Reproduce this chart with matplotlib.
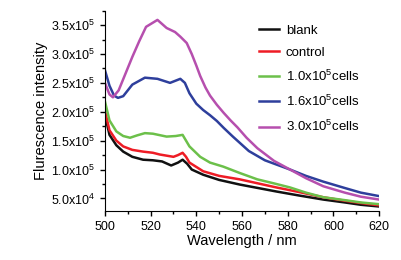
import matplotlib
matplotlib.use('Agg')
import matplotlib.pyplot as plt
from matplotlib.ticker import MultipleLocator, FuncFormatter

plt.rcParams['font.family'] = ['Liberation Sans', 'DejaVu Sans']
plt.rcParams['mathtext.fontset'] = 'custom'
plt.rcParams['mathtext.rm'] = 'Liberation Sans'

# wavelength (nm) sample points for each curve
wl_blank = [500, 502, 505, 508, 512, 516.7, 521, 525, 529, 532, 534, 536, 538, 543, 550, 559, 567, 575, 585, 595.6, 605, 612, 620]
blank = [1.95e5, 1.6e5, 1.42e5, 1.31e5, 1.22e5, 1.17e5, 1.16e5, 1.14e5, 1.07e5, 1.12e5, 1.17e5, 1.1e5, 1.0e5, 9.1e4, 8.2e4, 7.4e4, 6.8e4, 6.2e4, 5.5e4, 4.8e4, 4.3e4, 3.9e4, 3.6e4]

wl_control = [500, 502, 505, 508, 512, 516.7, 521, 524, 530, 532, 534, 535.5, 537, 543, 550, 559, 567, 575, 585, 595.6, 605, 612, 620]
control = [2.02e5, 1.68e5, 1.5e5, 1.4e5, 1.34e5, 1.31e5, 1.29e5, 1.26e5, 1.22e5, 1.25e5, 1.29e5, 1.22e5, 1.12e5, 9.7e4, 8.9e4, 8.3e4, 7.6e4, 6.9e4, 6.1e4, 5.2e4, 4.6e4, 4.2e4, 3.8e4]

wl_green = [500, 502, 505, 508, 511, 514, 517.5, 521, 527, 531, 534, 535.5, 537, 541.7, 546, 551.8, 559, 566.7, 574, 581, 588, 595.6, 605, 612, 620]
green = [2.18e5, 1.85e5, 1.66e5, 1.58e5, 1.55e5, 1.59e5, 1.63e5, 1.62e5, 1.57e5, 1.58e5, 1.6e5, 1.5e5, 1.4e5, 1.22e5, 1.12e5, 1.05e5, 9.4e4, 8.3e4, 7.6e4, 6.9e4, 6.0e4, 5.2e4, 4.7e4, 4.3e4, 4.0e4]

wl_blue = [500, 502, 504, 505.7, 508, 512, 517.5, 523, 528.5, 533, 535, 537, 540, 543, 546, 549, 552, 556, 563, 570, 581, 588, 595.6, 605, 612, 620]
blue = [2.72e5, 2.45e5, 2.28e5, 2.24e5, 2.27e5, 2.47e5, 2.59e5, 2.57e5, 2.5e5, 2.57e5, 2.5e5, 2.32e5, 2.14e5, 2.03e5, 1.94e5, 1.84e5, 1.72e5, 1.57e5, 1.32e5, 1.16e5, 1.0e5, 8.9e4, 7.9e4, 6.8e4, 6.0e4, 5.4e4]

wl_magenta = [500, 502, 503.5, 506, 509, 512, 515, 518, 520.5, 523, 527, 530.7, 533, 535.8, 538, 540, 541.7, 544, 546, 549, 552, 555, 558, 562, 566.7, 574, 581, 588, 595.6, 605, 612, 620]
magenta = [2.5e5, 2.3e5, 2.25e5, 2.37e5, 2.66e5, 2.95e5, 3.22e5, 3.47e5, 3.53e5, 3.59e5, 3.45e5, 3.38e5, 3.3e5, 3.19e5, 3.0e5, 2.8e5, 2.62e5, 2.42e5, 2.28e5, 2.12e5, 1.98e5, 1.85e5, 1.73e5, 1.55e5, 1.37e5, 1.15e5, 1.0e5, 8.5e4, 7.1e4, 6.0e4, 5.3e4, 4.8e4]

labels = ['blank', 'control', '1.0x10$^5$cells', '1.6x10$^5$cells', '3.0x10$^5$cells']
colors = ['#111111', '#ee1c25', '#6cc04a', '#2e3f9c', '#b64fae']

fig = plt.figure(figsize=(4.02, 2.6), dpi=100)
ax = fig.add_axes([0.261, 0.188, 0.682, 0.771])

series = [(wl_blank, blank), (wl_control, control), (wl_green, green), (wl_blue, blue), (wl_magenta, magenta)]
for (x, y), lab, c in zip(series, labels, colors):
    ax.plot(x, y, color=c, lw=1.8, label=lab)

ax.set_xlim(500, 620)
ax.set_ylim(2.8e4, 3.75e5)
ax.xaxis.set_major_locator(MultipleLocator(20))
ax.xaxis.set_minor_locator(MultipleLocator(10))
ax.yaxis.set_major_locator(MultipleLocator(5e4))
ax.yaxis.set_minor_locator(MultipleLocator(2.5e4))

def yfmt(v, pos):
    if v < 1e5:
        return '%.1fx10$^4$' % (v / 1e4)
    return '%.1fx10$^5$' % (v / 1e5)

ax.yaxis.set_major_formatter(FuncFormatter(yfmt))
ax.spines['top'].set_visible(False)
ax.spines['right'].set_visible(False)
ax.tick_params(which='both', direction='out', labelsize=9, width=1)
ax.tick_params(which='major', length=3.5)
ax.tick_params(which='minor', length=2)
ax.set_xlabel('Wavelength / nm', fontsize=10.5, labelpad=1)
ax.set_ylabel('Flurescence intensity', fontsize=10.5, labelpad=2)

ax.legend(loc='upper left', bbox_to_anchor=(0.52, 0.99), frameon=False, fontsize=9.5,
          handlelength=1.5, handletextpad=0.5, labelspacing=0.75)

fig.savefig('out.png', dpi=100)
